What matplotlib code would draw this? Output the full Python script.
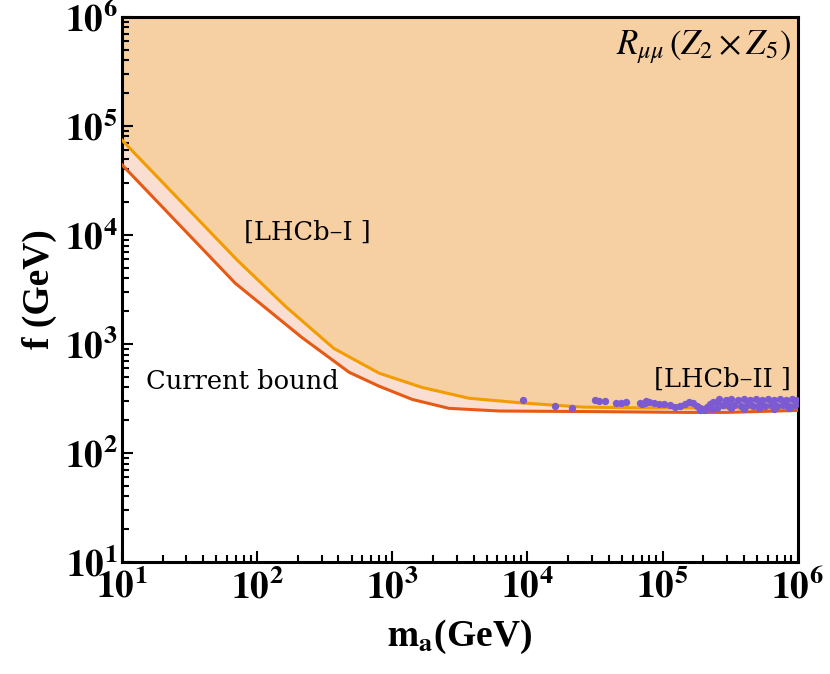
import matplotlib.pyplot as plt
import numpy as np

plt.rcParams['mathtext.fontset'] = 'stix'

# LHCb-I projection (upper, orange line)
up_m = [10, 71, 163, 370, 800, 1660, 3700, 9200, 25500, 80000, 1e6]
up_f = [74000, 5900, 2200, 910, 540, 400, 318, 288, 264, 259, 259]

# current bound (lower, red-orange line)
low_m = [10, 69, 214, 480, 800, 1410, 2630, 6200, 30000, 1.5e5, 3e5, 1e6]
low_f = [44000, 3600, 1150, 550, 410, 310, 257, 243, 240, 236, 236, 246]

# LHCb-II scan points
pts_m = [9.3e3, 1.61e4, 2.15e4, 3.19e4, 3.41e4, 3.78e4, 4.49e4, 4.89e4, 5.41e4, 7.1e4, 7.6e4,
         6.76e4, 7.36e4, 8.0e4, 8.7e4, 9.5e4, 1.03e5, 1.13e5, 1.23e5, 1.34e5, 1.46e5,
         1.58e5, 1.67e5, 1.79e5, 1.88e5, 1.98e5, 2.12e5, 2.23e5, 2.35e5, 2.51e5,
         1.88e5, 2.05e5, 2.31e5, 2.55e5,
         2.64e5, 2.93e5, 3.24e5, 3.59e5, 3.98e5, 4.41e5, 4.88e5, 5.41e5, 6.0e5, 6.64e5,
         7.36e5, 8.15e5, 9.03e5, 9.8e5,
         2.78e5, 3.08e5, 3.41e5, 3.78e5, 4.19e5, 4.64e5, 5.14e5, 5.70e5, 6.31e5, 6.99e5,
         7.74e5, 8.58e5, 9.5e5,
         3.24e5, 3.98e5, 5.14e5, 6.64e5, 8.58e5]
pts_f = [306, 270, 259, 306, 300, 300, 288, 288, 294, 282, 300,
         288, 288, 294, 288, 282, 282, 276, 264, 270, 282,
         294, 288, 270, 259, 254, 264, 282, 294, 294,
         248, 248, 254, 259,
         313, 306, 313, 306, 313, 306, 313, 306, 313, 306,
         313, 306, 313, 306,
         276, 270, 276, 270, 276, 270, 276, 270, 276, 270,
         276, 270, 276,
         259, 254, 259, 254, 259]

ticks = [1e1, 1e2, 1e3, 1e4, 1e5, 1e6]
tick_labels = [r'$\mathbf{10^{%d}}$' % i for i in range(1, 7)]

fig = plt.figure(figsize=(8.3, 6.74), dpi=100)
ax = fig.add_axes([0.147, 0.166, 0.814, 0.809])

ax.fill_between(up_m, up_f, 1e6, color='#F6CFA2', lw=0, zorder=1)
ax.fill(np.concatenate([low_m, up_m[::-1]]), np.concatenate([low_f, up_f[::-1]]),
        color='#FADED2', lw=0, zorder=1)
ax.plot(up_m, up_f, color='#F39C00', lw=2.2, zorder=3)
ax.plot(low_m, low_f, color='#E65A14', lw=2.2, zorder=3)
ax.scatter(pts_m, pts_f, s=28, color='#7B5AD2', lw=0, zorder=4)

ax.set_xscale('log')
ax.set_yscale('log')
ax.set_xlim(10, 1e6)
ax.set_ylim(10, 1e6)

for s in ax.spines.values():
    s.set_linewidth(2.2)
ax.tick_params(which='both', direction='in', top=False, right=False, width=1.5)
ax.tick_params(which='major', length=8)
ax.tick_params(which='minor', length=5)

ax.set_xticks(ticks)
ax.set_xticklabels(tick_labels, fontsize=27)
ax.set_yticks(ticks)
ax.set_yticklabels(tick_labels, fontsize=27)
ax.tick_params(axis='x', pad=5)
ax.tick_params(axis='y', pad=3)

ax.set_xlabel(r'$\mathbf{m_a}$(GeV)', family='Liberation Serif', fontweight='bold', fontsize=27, labelpad=8)
ax.set_ylabel('f (GeV)', family='Liberation Serif', fontweight='bold', fontsize=27, labelpad=6)

ax.text(0.035, 0.318, 'Current bound', transform=ax.transAxes, family='DejaVu Serif', fontsize=18.5)
ax.text(0.18, 0.592, '[LHCb\u2013I ]', transform=ax.transAxes, family='DejaVu Serif', fontsize=18.5)
ax.text(0.99, 0.322, '[LHCb\u2013II ]', transform=ax.transAxes, family='DejaVu Serif', fontsize=18.5, ha='right')
ax.text(0.99, 0.945, r'$R_{\mu\mu}\,(Z_2\times Z_5)$', transform=ax.transAxes, fontsize=25, ha='right', va='center')

fig.savefig('out.png', dpi=100)
